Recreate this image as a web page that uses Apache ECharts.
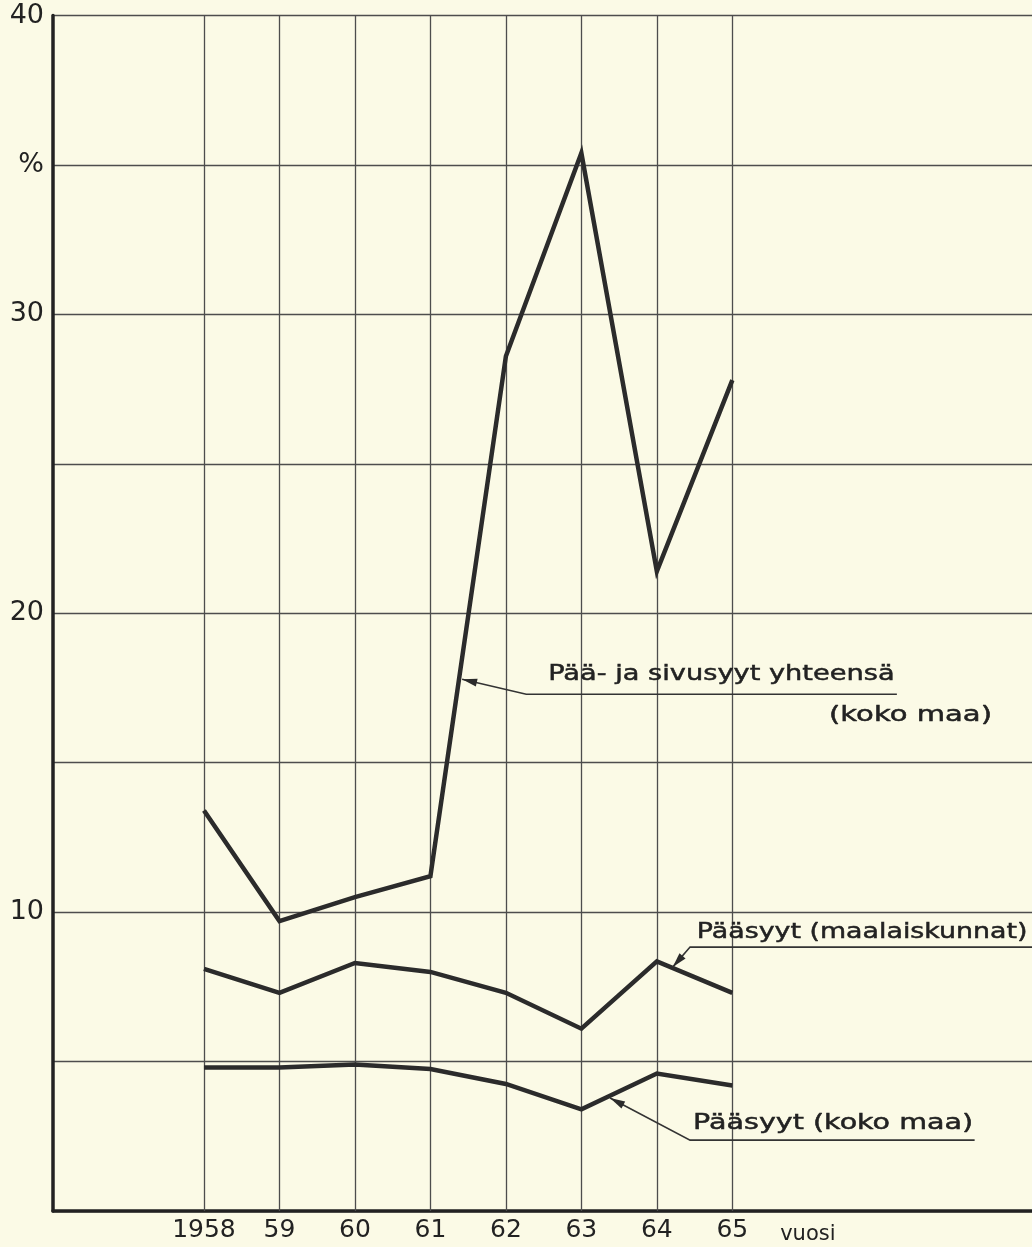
<!DOCTYPE html>
<html>
<head>
<meta charset="utf-8">
<script src="https://cdn.jsdelivr.net/npm/echarts@6/dist/echarts.min.js"></script>
<style>
  html, body { margin: 0; padding: 0; background: #fbfae6; }
  #chart { width: 1032px; height: 1247px; }
</style>
</head>
<body>
<div id="chart"></div>
<script>
// vuodet ja sarjat
var years = [1958, 1959, 1960, 1961, 1962, 1963, 1964, 1965];
var paaJaSivusyyt = [13.4, 9.7, 10.5, 11.2, 28.6, 35.4, 21.4, 27.8];
var paasyytMaalaiskunnat = [8.1, 7.3, 8.3, 8.0, 7.3, 6.1, 8.35, 7.3];
var paasyytKokoMaa = [4.8, 4.8, 4.9, 4.75, 4.25, 3.4, 4.6, 4.2];
var yTickLabels = { 40: '40', 35: '%', 30: '30', 20: '20', 10: '10' };
var xUnitLabel = 'vuosi';

var ink = '#222';
var font = '"DejaVu Sans", sans-serif';

function pairs(vals) {
    return years.map(function (y, i) { return [y, vals[i]]; });
}

function lineSeries(name, vals) {
    return {
        name: name,
        type: 'line',
        data: pairs(vals),
        symbol: 'none',
        z: 5,
        lineStyle: { color: '#2b2b2b', width: 4.5, join: 'miter' }
    };
}

var option = {
    backgroundColor: '#fbfae6',
    animation: false,
    grid: { left: 53, top: 15.5, right: 0, bottom: 36 },
    xAxis: {
        type: 'value',
        min: 1956,
        max: 1968.97,
        interval: 1,
        axisLine: { show: true, lineStyle: { color: '#222', width: 3.5 } },
        axisTick: { show: false },
        splitLine: { show: false },
        axisLabel: {
            margin: 7,
            color: ink,
            fontFamily: font,
            fontSize: 25,
            showMaxLabel: false,
            formatter: function (v) {
                if (v === years[0]) return String(v);
                if (years.indexOf(v) >= 0) return String(v).slice(2);
                if (v === years[years.length - 1] + 1) return '{u|' + xUnitLabel + '}';
                return '';
            },
            rich: { u: { fontSize: 21, fontFamily: font, color: ink, padding: [6, 0, 0, 0] } }
        }
    },
    yAxis: {
        type: 'value',
        min: 0,
        max: 40,
        interval: 5,
        axisLine: { show: true, lineStyle: { color: '#222', width: 3.5 } },
        axisTick: { show: false },
        splitLine: { show: true, lineStyle: { color: '#4d4d4d', width: 1.3 } },
        axisLabel: {
            margin: 9,
            color: ink,
            fontFamily: font,
            fontSize: 27,
            formatter: function (v) { return yTickLabels[v] || ''; }
        }
    },
    series: [
        {
            // pystysuorat apuviivat vuosien kohdalla
            type: 'line',
            data: [],
            silent: true,
            markLine: {
                silent: true,
                symbol: 'none',
                label: { show: false },
                lineStyle: { color: '#4d4d4d', width: 1.3, type: 'solid' },
                data: years.map(function (y) { return { xAxis: y }; })
            }
        },
        lineSeries('Pää- ja sivusyyt yhteensä (koko maa)', paaJaSivusyyt),
        lineSeries('Pääsyyt (maalaiskunnat)', paasyytMaalaiskunnat),
        lineSeries('Pääsyyt (koko maa)', paasyytKokoMaa)
    ]
};

var chart = echarts.init(document.getElementById('chart'));
chart.setOption(option);

// selitteet nuolineen (sijainnit data-koordinaatteina)
var notes = [
    { text: 'Pää- ja sivusyyt yhteensä', from: [1962.56, 17.96], to: [1967.15, 17.96],
      tip: [1961.42, 17.79], bend: [1962.27, 17.29], end: [1967.18, 17.29] },
    { text: '(koko maa)', from: [1966.28, 16.59], to: [1968.44, 16.59] },
    { text: 'Pääsyyt (maalaiskunnat)', from: [1964.53, 9.33], to: [1968.91, 9.33],
      tip: [1964.21, 8.16], bend: [1964.44, 8.83], end: [1968.97, 8.83] },
    { text: 'Pääsyyt (koko maa)', from: [1964.48, 2.94], to: [1968.19, 2.94],
      tip: [1963.38, 3.78], bend: [1964.44, 2.37], end: [1968.21, 2.37] }
];

function px(p) { return chart.convertToPixel({ gridIndex: 0 }, p); }
var ctx = document.createElement('canvas').getContext('2d');
var noteSize = 22;
ctx.font = noteSize + 'px ' + font;

var elements = [];
notes.forEach(function (n) {
    var a = px(n.from), b = px(n.to);
    var w = ctx.measureText(n.text).width;
    elements.push({
        type: 'text',
        x: a[0], y: a[1],
        scaleX: (b[0] - a[0]) / w,
        z: 10,
        style: { text: n.text, fontSize: noteSize, fontFamily: font, fill: ink,
                 stroke: ink, lineWidth: 0.5, verticalAlign: 'middle', align: 'left' }
    });
    if (n.tip) {
        var t = px(n.tip), bd = px(n.bend), e = px(n.end);
        elements.push({
            type: 'polyline', z: 10,
            shape: { points: [t, bd, e] },
            style: { stroke: '#333', lineWidth: 1.6, fill: null }
        });
        var dx = bd[0] - t[0], dy = bd[1] - t[1];
        var len = Math.sqrt(dx * dx + dy * dy);
        var ux = dx / len, uy = dy / len;
        var L = 15, H = 4;
        elements.push({
            type: 'polygon', z: 10,
            shape: { points: [
                t,
                [t[0] + ux * L - uy * H, t[1] + uy * L + ux * H],
                [t[0] + ux * L + uy * H, t[1] + uy * L - ux * H]
            ] },
            style: { fill: '#2b2b2b' }
        });
    }
});
chart.setOption({ graphic: elements });
</script>
</body>
</html>
